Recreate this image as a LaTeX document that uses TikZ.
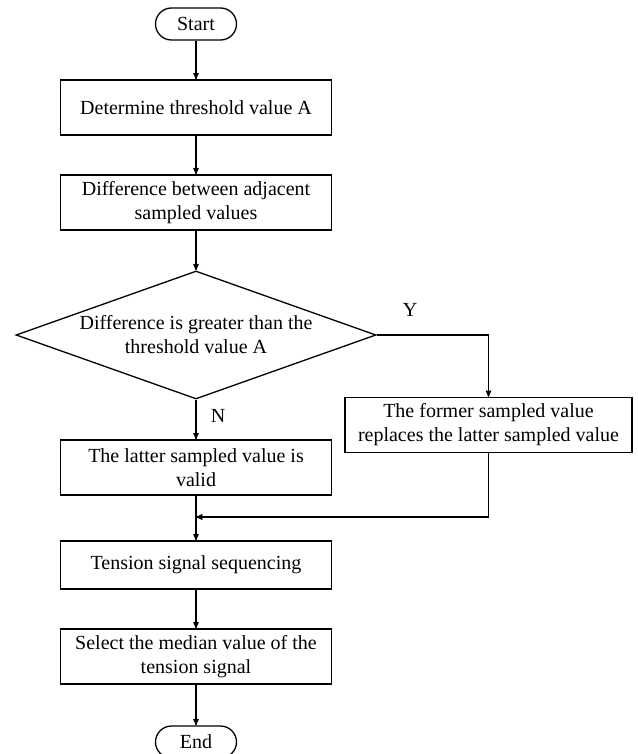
\documentclass[tikz,border=0pt]{standalone}
\usepackage{fontspec}
\setmainfont{Liberation Serif}
\usetikzlibrary{arrows,shapes.geometric}

\begin{document}
\begin{tikzpicture}[
    x = 1pt,
    y = -1pt,
    line width = 1.3pt,
    >=stealth',
    font = \fontsize{20}{24}\selectfont,
    box/.style = {
      draw,
      rectangle,
      align = center,
      inner sep = 0pt,
      minimum width = 271pt,
      minimum height = 55pt
    },
    terminal/.style = {
      draw,
      rectangle,
      rounded corners = 16pt,
      inner sep = 0pt,
      minimum width = 81pt,
      minimum height = 32pt
    },
    decision/.style = {
      draw,
      diamond,
      inner sep = 0pt,
      minimum width = 360pt,
      minimum height = 128pt
    }
  ]
  \useasboundingbox (0,0) rectangle (637,754);
  \node[terminal] (start) at (196,24) {Start};
  \node[box] (thresh) at (196,107.5) {Determine threshold value A};
  \node[box] (diff) at (196,202.5) {Difference between adjacent\\sampled values};
  \node[decision] (dec) at (196,335) {};
  \node[align = center] (dectext) at (dec.center) {Difference is greater than the\\threshold value A};
  \node[box] (valid) at (196,467.5) {The latter sampled value is\\valid};
  \node[box, minimum width = 287pt] (repl) at (488.5,425) {The former sampled value\\replaces the latter sampled value};
  \coordinate (merge) at (196,517);
  \node[box, minimum height = 48pt] (sort) at (196,565) {Tension signal sequencing};
  \node[box] (median) at (196,656.5) {Select the median value of the\\tension signal};
  \node[terminal] (end) at (196,742) {End};
  \scope[]
    \draw[->] (start) -- (thresh);
    \draw[->] (thresh) -- (diff);
    \draw[->] (diff) -- (dec.north);
    \draw[->] (dec.east) -| (repl.north);
    \draw[->] (dec.south) -- (valid.north);
    \draw (valid.south) -- (merge);
    \draw[->] (repl.south) |- (merge);
    \draw[->] (merge) -- (sort.north);
    \draw[->] (sort) -- (median);
    \draw[->] (median) -- (end);
    \node (ylabel) at (410,310) {Y};
    \node (nlabel) at (218,416) {N};
  \endscope
\end{tikzpicture}
\end{document}
